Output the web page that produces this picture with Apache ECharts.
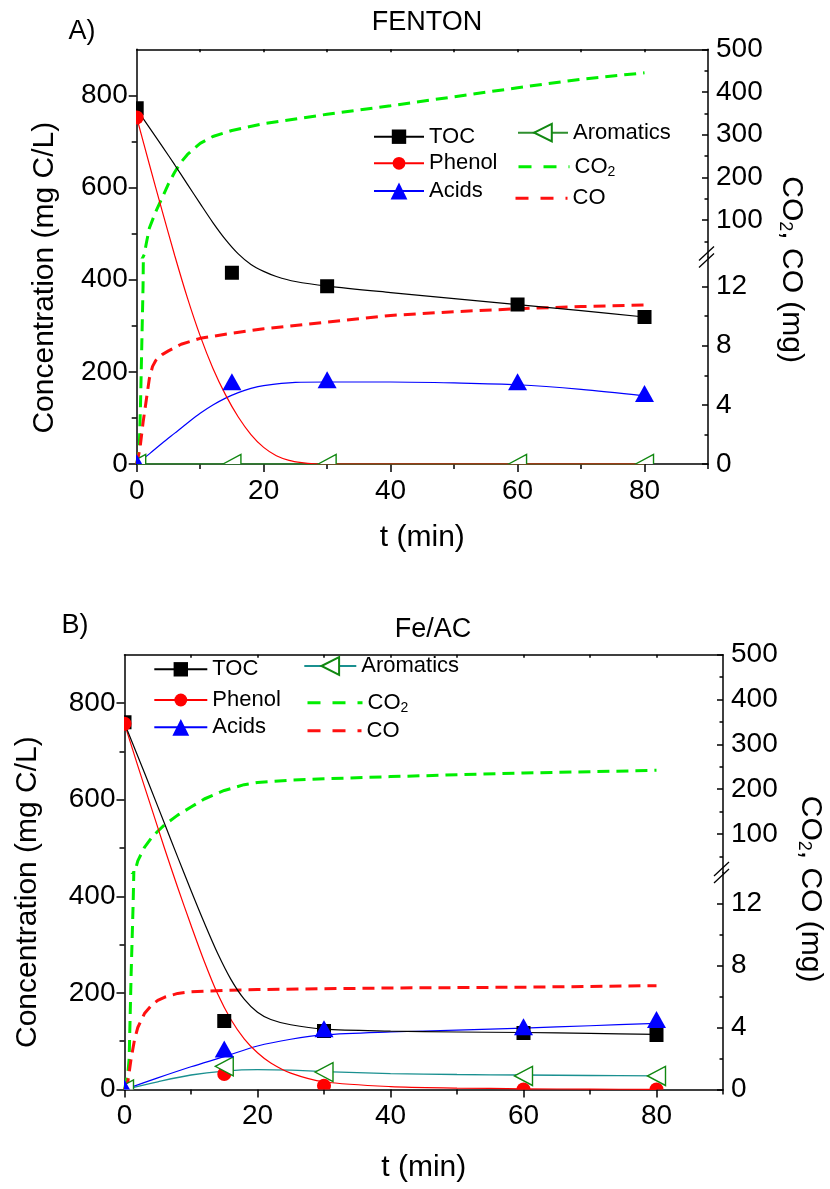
<!DOCTYPE html>
<html>
<head>
<meta charset="utf-8">
<script src="https://cdn.jsdelivr.net/npm/echarts@6/dist/echarts.min.js"></script>
<style>html,body{margin:0;padding:0;background:#fff}#c{width:830px;height:1189px}</style>
</head>
<body>
<div id="c"></div>
<script>
// ================= DATA =================
// measurement times (min)
const T_MEAS = [0, 15, 30, 60, 80];

// ---- Panel A: FENTON ----
const A_TOC = [772, 415, 386, 346, 319];
const A_PHENOL_T = [0];
const A_PHENOL = [752];
const A_ACIDS = [0, 176, 180, 176, 150];
const A_AROM = [0, 0, 0, 0, 0];

const A_TOC_FIT_T = [0, 2, 4, 6, 8, 10, 12, 14, 16, 18, 20, 22, 25, 30, 40, 50, 60, 70, 80];
const A_TOC_FIT   = [770, 730, 690, 649, 607, 565, 524, 487, 456, 433, 418, 407, 396, 386, 372, 359, 346, 333, 319];
const A_PHENOL_FIT_T = [0, 2, 4, 6, 8, 10, 12, 14, 16, 18, 20, 22, 24, 26, 28, 30, 40, 60, 80];
const A_PHENOL_FIT   = [752, 650, 550, 452, 360, 278, 208, 150, 102, 64, 36, 18, 8, 3, 0.5, 0, 0, 0, 0];
const A_ACIDS_FIT_T = [0, 2, 4, 6, 8, 10, 12, 14, 16, 18, 20, 25, 30, 40, 50, 60, 70, 80];
const A_ACIDS_FIT   = [0, 22, 45, 67, 89, 110, 128, 143, 155, 164, 170, 177, 178, 178, 176, 172, 162, 148];
const A_AROM_FIT_T = [0, 15, 30, 60, 80];
const A_AROM_FIT   = [0, 0, 0, 0, 0];
const A_CO2_T = [0, 0.4, 0.6, 0.8, 1, 1.2, 1.5, 2, 3, 4, 5, 6, 7, 8, 10, 12, 15, 20, 25, 30, 40, 50, 60, 70, 80];
const A_CO2   = [0, 1, 4, 8, 12, 20, 45, 82, 120, 152, 185, 213, 236, 254, 280, 296, 310, 326, 337, 348, 368, 389, 410, 430, 445];
const A_CO_T = [0, 0.5, 1, 1.5, 2, 2.5, 3, 4, 5, 7, 10, 15, 20, 30, 40, 50, 60, 70, 80];
const A_CO   = [0, 1, 2.8, 4.3, 5.8, 6.6, 7.0, 7.4, 7.65, 8.1, 8.5, 8.85, 9.15, 9.6, 10.05, 10.3, 10.5, 10.65, 10.75];

// ---- Panel B: Fe/AC ----
const B_TOC = [760, 142, 121, 117, 113];
const B_PHENOL = [757, 32, 8, 0, 0];
const B_ACIDS = [0, 81, 123, 127, 142];
const B_AROM = [0, 48, 36, 28, 28];

const B_TOC_FIT_T = [0, 2, 4, 6, 8, 10, 12, 14, 16, 18, 20, 22, 25, 30, 40, 50, 60, 70, 80];
const B_TOC_FIT   = [758, 690, 621, 551, 481, 412, 345, 282, 228, 187, 160, 145, 134, 125, 121, 119, 118, 116, 114];
const B_PHENOL_FIT_T = [0, 2, 4, 6, 8, 10, 12, 14, 16, 18, 20, 22, 25, 30, 40, 50, 60, 70, 80];
const B_PHENOL_FIT   = [757, 670, 585, 500, 418, 340, 265, 198, 145, 105, 76, 55, 34, 16, 6, 3, 1.5, 0.7, 0.3];
const B_ACIDS_FIT_T = [0, 5, 10, 15, 20, 25, 30, 40, 50, 60, 70, 80];
const B_ACIDS_FIT   = [0, 24, 47, 68, 90, 104, 113, 119, 123, 127, 132, 137];
const B_AROM_FIT_T = [0, 5, 10, 15, 20, 25, 30, 40, 50, 60, 70, 80];
const B_AROM_FIT   = [0, 16, 30, 38, 41, 40, 37, 33, 31, 30, 29, 28];
const B_CO2_T = [0, 0.5, 0.7, 1, 1.3, 1.6, 2, 3, 4, 5, 6, 8, 10, 12, 15, 18, 20, 25, 30, 40, 50, 60, 70, 80];
const B_CO2   = [0, 1, 2, 7.5, 12, 18, 40, 70, 90, 106, 120, 142, 160, 178, 197, 210, 215, 220, 223, 228, 232, 236, 239, 242];
const B_CO_T = [0, 0.5, 1, 1.5, 2, 3, 4, 5, 6, 8, 10, 15, 20, 30, 40, 60, 80];
const B_CO   = [0, 0.5, 2, 3.2, 4, 4.9, 5.4, 5.75, 5.95, 6.2, 6.3, 6.4, 6.45, 6.5, 6.55, 6.6, 6.7];

// ---- axes / ticks ----
const X_RANGE = [0, 90];
const X_TICKS = [0, 20, 40, 60, 80];
const X_MINOR = [10, 30, 50, 70, 90];
const X_TOP = [10, 20, 30, 40, 50, 60, 70, 80];
const LEFT_RANGE = [0, 900];
const LEFT_TICKS = [0, 200, 400, 600, 800];
const LEFT_MINOR = [100, 300, 500, 700];
const RU_RANGE = [14, 500];
const RU_TICKS = [100, 200, 300, 400, 500];
const RU_MINOR = [50, 150, 250, 350, 450];
const RL_RANGE = [0, 14];
const RL_TICKS = [0, 4, 8, 12];
const RL_MINOR = [2, 6, 10];

// ================= LAYOUT / STYLE =================
const FONT = '"Liberation Sans", Arial, sans-serif';
const BLACK = '#000';
const C_TOC = '#000000', C_PHENOL = '#ff0000', C_ACIDS = '#0000ff', C_AROM_MK = '#118811',
      C_CO2 = '#00ee00', C_CO = '#ff1010';

const option = {
  animation: false, backgroundColor: '#fff',
  grid: [], xAxis: [], yAxis: [], series: [], legend: [], graphic: []
};

function zip(t, v) { return t.map((x, i) => [x, v[i]]); }
function fmtName(n) { const b = n.replace(/_[AB]$/, ''); return b === 'CO2' ? 'CO{sub|2}' : b; }

function markerSeries(name, xi, yi, ts, vs, shape, w, h, fill, stroke) {
  return {
    type: 'custom', name: name, xAxisIndex: xi, yAxisIndex: yi, clip: true, silent: true, z: 5,
    data: zip(ts, vs),
    renderItem: function (params, api) {
      const p = api.coord([api.value(0), api.value(1)]);
      const x = p[0], y = p[1], hw = w / 2, hh = h / 2;
      let g;
      if (shape === 'rect') g = { type: 'rect', shape: { x: x - hw, y: y - hh, width: w, height: h } };
      else if (shape === 'circle') g = { type: 'circle', shape: { cx: x, cy: y, r: hw } };
      else if (shape === 'triangle') g = { type: 'polygon', shape: { points: [[x, y - hh * 1.15], [x - hw, y + hh * 0.85], [x + hw, y + hh * 0.85]] } };
      else g = { type: 'polygon', shape: { points: [[x - hw, y], [x + hw, y - hh], [x + hw, y + hh]] } };
      g.style = { fill: fill, stroke: stroke || null, lineWidth: stroke ? 1.4 : 0 };
      return g;
    }
  };
}

function addPanel(L, D) {
  const g0 = option.grid.length, x0 = option.xAxis.length, y0 = option.yAxis.length;
  const W = L.right - L.left;
  option.grid.push({ left: L.left, top: L.top, width: W, height: L.bottom - L.top, containLabel: false, outerBoundsMode: 'none' });
  option.grid.push({ left: L.left, top: L.top, width: W, height: L.brk - L.top, containLabel: false, outerBoundsMode: 'none' });
  option.grid.push({ left: L.left, top: L.brk, width: W, height: L.bottom - L.brk, containLabel: false, outerBoundsMode: 'none' });

  const aLine = { show: true, onZero: false, lineStyle: { color: BLACK, width: 1.5 } };
  const noLine = { show: false, onZero: false };
  const tickLS = { color: BLACK, width: 1.5 };
  const lbl = { fontFamily: FONT, fontSize: L.tick, color: BLACK };
  const nameTS = { fontFamily: FONT, fontSize: L.nameFont, color: BLACK };

  // x axes
  option.xAxis.push({ type: 'value', gridIndex: g0, position: 'bottom', min: X_RANGE[0], max: X_RANGE[1],
    axisLine: aLine, splitLine: { show: false },
    axisTick: { show: true, customValues: X_TICKS, length: 8, lineStyle: tickLS },
    axisLabel: Object.assign({ show: true, customValues: X_TICKS, margin: 13 }, lbl),
    name: 't (min)', nameLocation: 'middle', nameGap: L.xNameGap, nameTextStyle: nameTS });
  option.xAxis.push({ type: 'value', gridIndex: g0, position: 'bottom', min: X_RANGE[0], max: X_RANGE[1],
    axisLine: noLine, splitLine: { show: false },
    axisTick: { show: true, customValues: X_MINOR, length: 5, lineStyle: tickLS }, axisLabel: { show: false } });
  option.xAxis.push({ type: 'value', gridIndex: g0, position: 'top', min: X_RANGE[0], max: X_RANGE[1],
    axisLine: aLine, splitLine: { show: false },
    axisTick: { show: true, inside: true, customValues: X_TOP, length: 3, lineStyle: tickLS }, axisLabel: { show: false } });
  option.xAxis.push({ type: 'value', gridIndex: g0 + 1, min: X_RANGE[0], max: X_RANGE[1], show: false });
  option.xAxis.push({ type: 'value', gridIndex: g0 + 2, min: X_RANGE[0], max: X_RANGE[1], show: false });

  // y axes
  option.yAxis.push({ type: 'value', gridIndex: g0, position: 'left', min: LEFT_RANGE[0], max: LEFT_RANGE[1],
    axisLine: aLine, splitLine: { show: false },
    axisTick: { show: true, customValues: LEFT_TICKS, length: 8, lineStyle: tickLS },
    axisLabel: Object.assign({ show: true, customValues: LEFT_TICKS, margin: 9 }, lbl),
    name: 'Concentration (mg C/L)', nameLocation: 'middle', nameRotate: 90, nameGap: L.yNameGap,
    nameTextStyle: Object.assign({ padding: [0, L.leftShift, 0, 0] }, nameTS) });                       // y0
  option.yAxis.push({ type: 'value', gridIndex: g0, position: 'left', min: LEFT_RANGE[0], max: LEFT_RANGE[1],
    axisLine: noLine, splitLine: { show: false },
    axisTick: { show: true, customValues: LEFT_MINOR, length: 5, lineStyle: tickLS }, axisLabel: { show: false } }); // y0+1
  option.yAxis.push({ type: 'value', gridIndex: g0, position: 'right', min: LEFT_RANGE[0], max: LEFT_RANGE[1],
    axisLine: noLine, splitLine: { show: false }, axisTick: { show: false }, axisLabel: { show: false },
    name: 'CO{sub|2}, CO (mg)', nameLocation: 'middle', nameRotate: -90, nameGap: L.rNameGap,
    nameTextStyle: Object.assign({ padding: [0, 0, 0, L.rightShift], lineHeight: L.nameFont,
      rich: { sub: { fontFamily: FONT, fontSize: 18, color: BLACK, lineHeight: 9, verticalAlign: 'bottom' } } }, nameTS) }); // y0+2
  option.yAxis.push({ type: 'value', gridIndex: g0 + 1, position: 'right', min: RU_RANGE[0], max: RU_RANGE[1],
    axisLine: aLine, splitLine: { show: false },
    axisTick: { show: true, inside: true, customValues: RU_TICKS, length: 6, lineStyle: tickLS },
    axisLabel: Object.assign({ show: true, customValues: RU_TICKS, margin: 8 }, lbl) });              // y0+3
  option.yAxis.push({ type: 'value', gridIndex: g0 + 1, position: 'right', min: RU_RANGE[0], max: RU_RANGE[1],
    axisLine: noLine, splitLine: { show: false },
    axisTick: { show: true, inside: true, customValues: RU_MINOR, length: 3.5, lineStyle: tickLS }, axisLabel: { show: false } }); // y0+4
  option.yAxis.push({ type: 'value', gridIndex: g0 + 2, position: 'right', min: RL_RANGE[0], max: RL_RANGE[1],
    axisLine: aLine, splitLine: { show: false },
    axisTick: { show: true, inside: true, customValues: RL_TICKS, length: 6, lineStyle: tickLS },
    axisLabel: Object.assign({ show: true, customValues: RL_TICKS, margin: 8 }, lbl) });              // y0+5
  option.yAxis.push({ type: 'value', gridIndex: g0 + 2, position: 'right', min: RL_RANGE[0], max: RL_RANGE[1],
    axisLine: noLine, splitLine: { show: false },
    axisTick: { show: true, inside: true, customValues: RL_MINOR, length: 3.5, lineStyle: tickLS }, axisLabel: { show: false } }); // y0+6

  const k = L.key;
  const dash = { width: 3, type: [12, 7] };
  // dashed gas curves (right axis, broken)
  option.series.push({ type: 'line', name: 'CO2_' + k, xAxisIndex: x0 + 3, yAxisIndex: y0 + 3, data: zip(D.co2T, D.co2),
    symbol: 'none', silent: true, clip: true, z: 2, itemStyle: { color: C_CO2 }, lineStyle: Object.assign({ color: C_CO2 }, dash) });
  option.series.push({ type: 'line', name: 'CO2_' + k, xAxisIndex: x0 + 4, yAxisIndex: y0 + 5, data: zip(D.co2T, D.co2),
    symbol: 'none', silent: true, clip: true, z: 2, itemStyle: { color: C_CO2 }, lineStyle: Object.assign({ color: C_CO2 }, dash) });
  option.series.push({ type: 'line', name: 'CO_' + k, xAxisIndex: x0 + 4, yAxisIndex: y0 + 5, data: zip(D.coT, D.co),
    symbol: 'none', silent: true, clip: true, z: 2, itemStyle: { color: C_CO }, lineStyle: Object.assign({ color: C_CO }, dash) });

  // fitted curves (left axis)
  const fit = (name, t, v, color, symbol, extra) => Object.assign({
    type: 'line', name: name + '_' + k, xAxisIndex: x0, yAxisIndex: y0, data: zip(t, v),
    symbol: symbol, showSymbol: false, silent: true, clip: true, z: 3, smooth: 0.3,
    itemStyle: { color: color }, lineStyle: { color: color, width: 1.2 }
  }, extra || {});
  option.series.push(fit('Aromatics', D.aromFitT, D.aromFit, '#fff', 'path://M0,10L20,0L20,20Z',
    { itemStyle: { color: '#fff', borderColor: C_AROM_MK, borderWidth: 1.4 }, lineStyle: { color: L.aromLine, width: 1.3 } }));
  option.series.push(fit('Acids', D.acidsFitT, D.acidsFit, C_ACIDS, 'triangle'));
  option.series.push(fit('Phenol', D.phenolFitT, D.phenolFit, C_PHENOL, 'circle'));
  option.series.push(fit('TOC', D.tocFitT, D.tocFit, C_TOC, 'rect'));

  // measured points (clipped at the frame like the original)
  option.series.push(markerSeries('pts_toc_' + k, x0, y0, D.tocT, D.toc, 'rect', 14, 14, C_TOC));
  option.series.push(markerSeries('pts_phenol_' + k, x0, y0, D.phenolT, D.phenol, 'circle', 14, 14, C_PHENOL));
  option.series.push(markerSeries('pts_arom_' + k, x0, y0, D.aromT, D.arom, 'left', 18, 19, '#fff', C_AROM_MK));
  option.series.push(markerSeries('pts_acids_' + k, x0, y0, D.acidsT, D.acids, 'triangle', 19, 17, C_ACIDS));

  // legends
  L.legend.forEach(function (it) {
    const dashed = /^CO/.test(it[0]);
    const lg = {
      data: [it[0] + '_' + k], left: it[1], top: it[2] - 12, orient: 'horizontal', padding: 0, itemGap: 0,
      itemWidth: it[3], itemHeight: it[4], selectedMode: false, formatter: fmtName,
      textStyle: { fontFamily: FONT, fontSize: L.legendFont, color: BLACK, lineHeight: 24,
        rich: { sub: { fontFamily: FONT, fontSize: 14, color: BLACK, lineHeight: 4, verticalAlign: 'bottom' } } }
    };
    if (dashed) {
      lg.itemStyle = { opacity: 0, color: 'rgba(0,0,0,0)', borderWidth: 0 };
      lg.lineStyle = { type: [13, 12], width: 3 };
    }
    option.legend.push(lg);
  });

  // titles
  option.graphic.push({ type: 'text', x: L.titleX, y: L.titleY, silent: true,
    style: { text: L.title, fontFamily: FONT, fontSize: L.titleFont, fill: BLACK, align: 'center', verticalAlign: 'middle' } });
  option.graphic.push({ type: 'text', x: L.tagX, y: L.tagY, silent: true,
    style: { text: L.tag, fontFamily: FONT, fontSize: L.titleFont, fill: BLACK, align: 'center', verticalAlign: 'middle' } });
  // axis-break marks on the right axis
  [-3.5, 3.5].forEach(function (d) {
    option.graphic.push({ type: 'line', silent: true,
      shape: { x1: L.right - 9, y1: L.brk + d + 7, x2: L.right + 6, y2: L.brk + d - 7 },
      style: { stroke: BLACK, lineWidth: 1.3 } });
  });
}

addPanel({
  key: 'A', title: 'FENTON', tag: 'A)', titleX: 427, titleY: 23, tagX: 82, tagY: 32, titleFont: 27,
  left: 136.7, right: 708, top: 49.3, bottom: 464, brk: 257,
  tick: 28, nameFont: 30, legendFont: 22, xNameGap: 59, yNameGap: 77, rNameGap: 68, leftShift: 42, rightShift: 26,
  aromLine: '#2f8f2f',
  legend: [['TOC', 373, 136.7, 50, 18], ['Phenol', 373, 163.3, 50, 16], ['Acids', 373, 191, 50, 21],
           ['Aromatics', 517, 132.7, 50, 22], ['CO2', 517, 166.7, 51, 18], ['CO', 514, 198.3, 52, 18]]
}, {
  tocT: T_MEAS, toc: A_TOC, phenolT: A_PHENOL_T, phenol: A_PHENOL, acidsT: T_MEAS, acids: A_ACIDS, aromT: T_MEAS, arom: A_AROM,
  tocFitT: A_TOC_FIT_T, tocFit: A_TOC_FIT, phenolFitT: A_PHENOL_FIT_T, phenolFit: A_PHENOL_FIT,
  acidsFitT: A_ACIDS_FIT_T, acidsFit: A_ACIDS_FIT, aromFitT: A_AROM_FIT_T, aromFit: A_AROM_FIT,
  co2T: A_CO2_T, co2: A_CO2, coT: A_CO_T, co: A_CO
});

addPanel({
  key: 'B', title: 'Fe/AC', tag: 'B)', titleX: 433, titleY: 630, tagX: 75, tagY: 626, titleFont: 27,
  left: 124.5, right: 723, top: 654.7, bottom: 1089.5, brk: 872.5,
  tick: 28, nameFont: 30, legendFont: 22, xNameGap: 63, yNameGap: 82, rNameGap: 72, leftShift: 40, rightShift: 34,
  aromLine: '#1a9090',
  legend: [['TOC', 153.3, 669.3, 53, 18], ['Phenol', 153.3, 700, 53, 16], ['Acids', 153.3, 727.3, 53, 21],
           ['Aromatics', 303.3, 666, 52, 22], ['CO2', 306, 702.7, 55, 18], ['CO', 306, 730.7, 54, 18]]
}, {
  tocT: T_MEAS, toc: B_TOC, phenolT: T_MEAS, phenol: B_PHENOL, acidsT: T_MEAS, acids: B_ACIDS, aromT: T_MEAS, arom: B_AROM,
  tocFitT: B_TOC_FIT_T, tocFit: B_TOC_FIT, phenolFitT: B_PHENOL_FIT_T, phenolFit: B_PHENOL_FIT,
  acidsFitT: B_ACIDS_FIT_T, acidsFit: B_ACIDS_FIT, aromFitT: B_AROM_FIT_T, aromFit: B_AROM_FIT,
  co2T: B_CO2_T, co2: B_CO2, coT: B_CO_T, co: B_CO
});

const chart = echarts.init(document.getElementById('c'), null, { renderer: 'canvas', width: 830, height: 1189 });
chart.setOption(option);
</script>
</body>
</html>
